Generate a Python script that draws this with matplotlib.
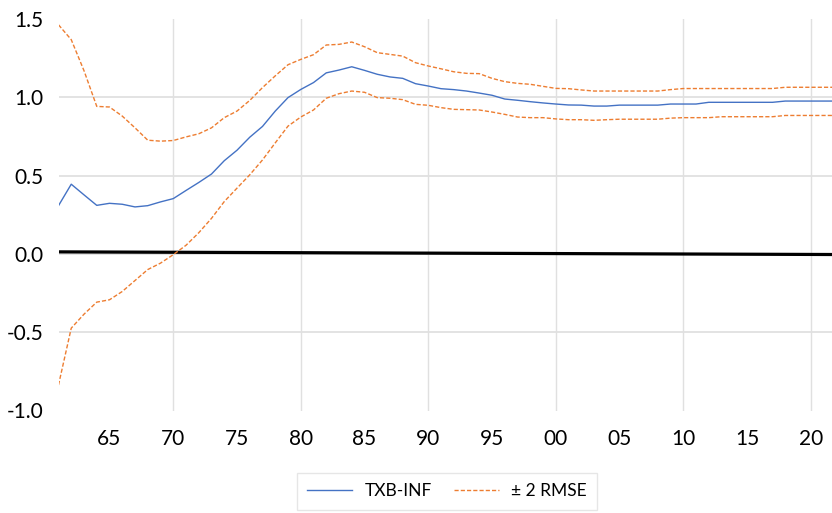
import matplotlib
matplotlib.use("Agg")
import matplotlib.pyplot as plt
import numpy as np

plt.rcParams['font.family'] = ['Lato', 'DejaVu Sans']

years = list(range(1961, 2023))

txb_inf = [0.308, 0.445, 0.377, 0.310, 0.323, 0.317, 0.300, 0.308, 0.332, 0.353,
           0.405, 0.456, 0.510, 0.595, 0.662, 0.745, 0.814, 0.912, 0.998, 1.050,
           1.094, 1.156, 1.174, 1.195, 1.172, 1.147, 1.130, 1.121, 1.087, 1.072,
           1.055, 1.049, 1.040, 1.027, 1.013, 0.989, 0.981, 0.972, 0.964, 0.957,
           0.951, 0.950, 0.944, 0.944, 0.950, 0.950, 0.950, 0.950, 0.957, 0.957,
           0.957, 0.968, 0.968, 0.968, 0.968, 0.968, 0.968, 0.976, 0.976, 0.976,
           0.976, 0.976]

upper = [1.463, 1.368, 1.170, 0.942, 0.938, 0.880, 0.805, 0.726, 0.720, 0.724,
         0.747, 0.767, 0.805, 0.870, 0.912, 0.980, 1.062, 1.137, 1.208, 1.242,
         1.272, 1.334, 1.338, 1.353, 1.323, 1.285, 1.274, 1.263, 1.221, 1.200,
         1.182, 1.163, 1.153, 1.151, 1.121, 1.100, 1.089, 1.083, 1.070, 1.057,
         1.055, 1.047, 1.040, 1.040, 1.040, 1.040, 1.040, 1.040, 1.049, 1.056,
         1.056, 1.056, 1.056, 1.056, 1.056, 1.056, 1.056, 1.064, 1.064, 1.064,
         1.064, 1.064]

lower = [-0.837, -0.474, -0.385, -0.308, -0.293, -0.240, -0.170, -0.100, -0.059, -0.005,
         0.055, 0.135, 0.227, 0.334, 0.420, 0.505, 0.600, 0.709, 0.816, 0.874,
         0.919, 0.994, 1.023, 1.040, 1.032, 0.998, 0.994, 0.985, 0.955, 0.949,
         0.934, 0.923, 0.921, 0.919, 0.906, 0.891, 0.874, 0.870, 0.870, 0.862,
         0.857, 0.857, 0.853, 0.857, 0.860, 0.860, 0.860, 0.860, 0.867, 0.870,
         0.870, 0.870, 0.876, 0.876, 0.876, 0.876, 0.876, 0.884, 0.884, 0.884,
         0.884, 0.884]

zero_line_x = [1961, 2022]
zero_line_y = [0.013, -0.004]

x_tick_years = list(range(1965, 2021, 5))
x_tick_labels = ["65", "70", "75", "80", "85", "90", "95", "00", "05", "10", "15", "20"]
y_ticks = [-1.0, -0.5, 0.0, 0.5, 1.0, 1.5]
y_tick_labels = ["-1.0", "-0.5", "0.0", "0.5", "1.0", "1.5"]

BLUE = "#4472C4"
ORANGE = "#ED7D31"
GRID = "#e0e0e0"

fig = plt.figure(figsize=(8.32, 5.13), dpi=100)
ax = fig.add_axes([58.5 / 832, 1 - 410.5 / 513, 1 - 58.5 / 832, (410.5 - 19) / 513])

ax.set_xlim(1961, 1961 + (832 - 58.5) / 12.75)
ax.set_ylim(-1.0, 1.5)

# gridlines
for yv in [-0.5, 0.0, 0.5, 1.0]:
    ax.axhline(yv, color=GRID, lw=1.3, zorder=0)
for xv in range(1970, 2021, 10):
    ax.axvline(xv, color=GRID, lw=1.0, zorder=0)

ax.plot(zero_line_x, zero_line_y, color="black", lw=2.3, zorder=3, solid_capstyle="butt")
ax.plot(years, txb_inf, color=BLUE, lw=1.0, label="TXB-INF", zorder=4)
ax.plot(years, upper, color=ORANGE, lw=1.0, dashes=(3, 1.5), label="\u00b1 2 RMSE", zorder=4)
ax.plot(years, lower, color=ORANGE, lw=1.0, dashes=(3, 1.5), zorder=4)

for s in ax.spines.values():
    s.set_visible(False)

ax.set_xticks(x_tick_years)
ax.set_xticklabels(x_tick_labels, fontsize=15, color="black")
ax.set_yticks(y_ticks)
ax.set_yticklabels(y_tick_labels, fontsize=15, color="black")
ax.tick_params(axis="both", length=0)
ax.tick_params(axis="x", pad=13)
ax.tick_params(axis="y", pad=11)

handles, labels = ax.get_legend_handles_labels()
leg = fig.legend(handles, labels, loc="upper center",
                 bbox_to_anchor=(447 / 832, 1 - 473 / 513),
                 ncol=2, fontsize=12.5, frameon=True, fancybox=False,
                 edgecolor=GRID, handlelength=2.6, handletextpad=0.7,
                 columnspacing=1.3, borderpad=0.6, borderaxespad=0)
leg.get_frame().set_linewidth(1.0)

fig.savefig("out.png", dpi=100)
